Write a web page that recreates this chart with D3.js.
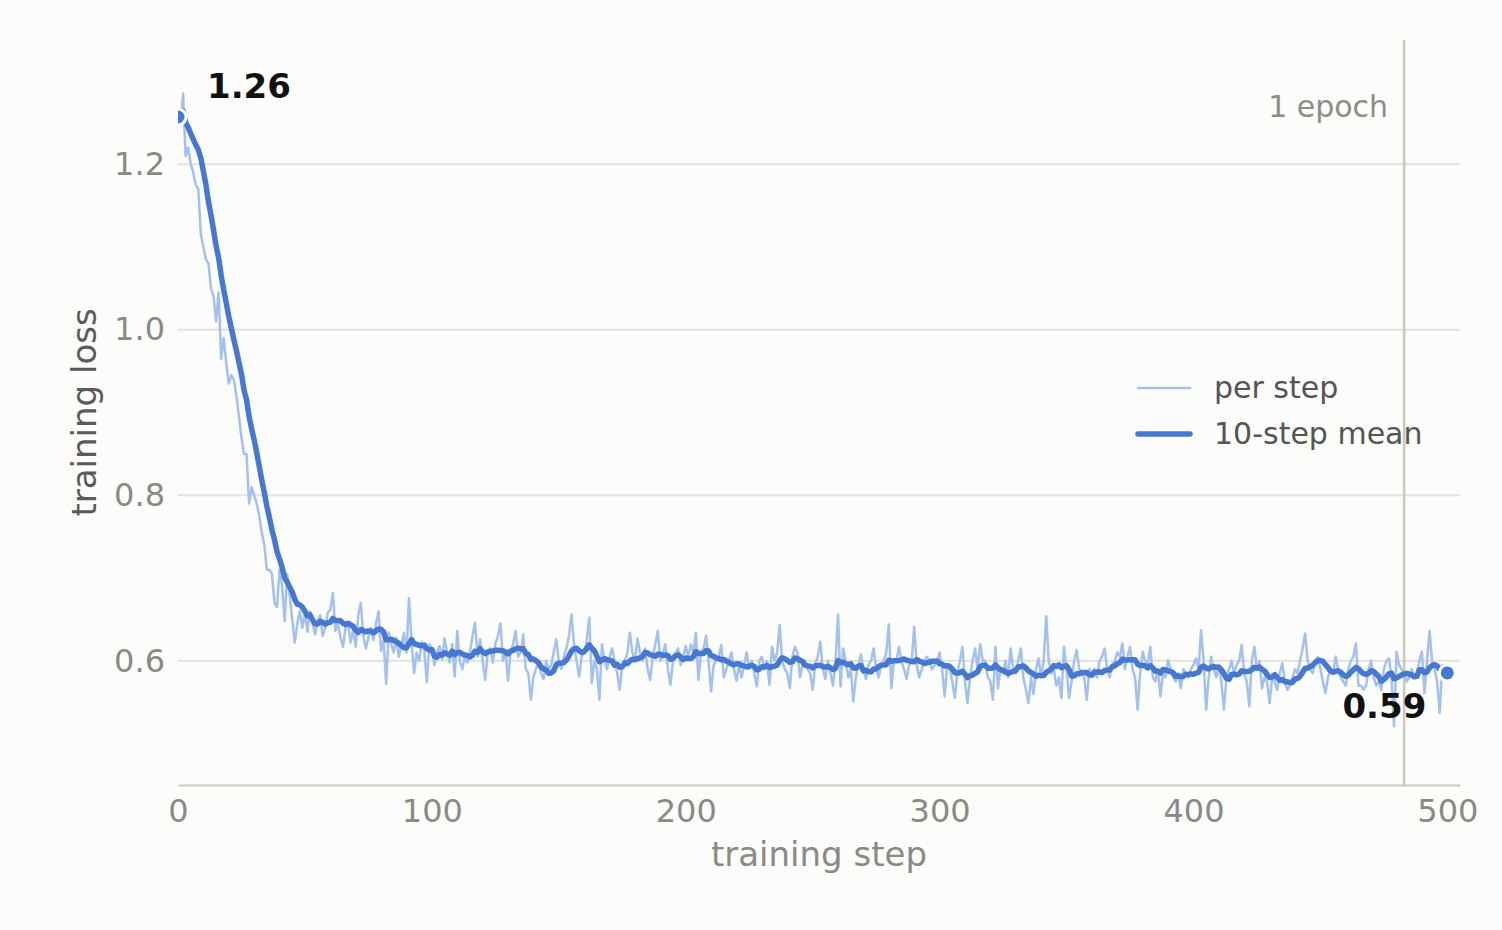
<!DOCTYPE html>
<html>
<head>
<meta charset="utf-8">
<script src="https://cdn.jsdelivr.net/npm/d3@7/dist/d3.min.js"></script>
<style>
    body { margin: 0; background: #fcfcfa; }
    text { font-family: "DejaVu Sans", sans-serif; }
</style>
</head>
<body>
<script>
// loss, one value per step, steps 0..500
var lossPerStep = [
    1.257, 1.25, 1.285, 1.21, 1.22, 1.20, 1.19, 1.175, 1.17, 1.115,
    1.10, 1.085, 1.08, 1.05, 1.04, 1.01, 1.045, 0.965, 0.99, 0.96,
    0.935, 0.945, 0.94, 0.92, 0.895, 0.87, 0.85, 0.85, 0.79, 0.81,
    0.80, 0.79, 0.775, 0.755, 0.74, 0.71, 0.71, 0.705, 0.67, 0.665,
    0.71, 0.69, 0.648, 0.705, 0.68, 0.65, 0.622, 0.645, 0.66, 0.64,
    0.658, 0.635, 0.66, 0.645, 0.632, 0.648, 0.655, 0.63, 0.64, 0.658,
    0.662, 0.682, 0.636, 0.645, 0.628, 0.617, 0.64, 0.646, 0.622, 0.638,
    0.617, 0.655, 0.67, 0.63, 0.615, 0.628, 0.64, 0.625, 0.645, 0.66,
    0.612, 0.625, 0.572, 0.634, 0.62, 0.61, 0.628, 0.605, 0.618, 0.634,
    0.61, 0.676, 0.622, 0.585, 0.61, 0.6, 0.623, 0.612, 0.574, 0.62,
    0.615, 0.595, 0.61, 0.618, 0.602, 0.627, 0.61, 0.598, 0.62, 0.581,
    0.636, 0.60, 0.59, 0.605, 0.598, 0.61, 0.63, 0.646, 0.605, 0.626,
    0.60, 0.577, 0.61, 0.615, 0.598, 0.62, 0.63, 0.645, 0.60, 0.612,
    0.576, 0.61, 0.62, 0.636, 0.605, 0.61, 0.632, 0.59, 0.585, 0.553,
    0.58, 0.59, 0.598, 0.585, 0.578, 0.60, 0.59, 0.595, 0.61, 0.626,
    0.60, 0.59, 0.605, 0.615, 0.63, 0.656, 0.62, 0.60, 0.581, 0.605,
    0.61, 0.625, 0.652, 0.573, 0.60, 0.59, 0.553, 0.62, 0.60, 0.59,
    0.605, 0.615, 0.60, 0.585, 0.565, 0.595, 0.60, 0.61, 0.634, 0.61,
    0.60, 0.627, 0.61, 0.60, 0.615, 0.59, 0.577, 0.605, 0.62, 0.636,
    0.60, 0.61, 0.62, 0.59, 0.571, 0.60, 0.61, 0.615, 0.595, 0.605,
    0.618, 0.605, 0.62, 0.61, 0.634, 0.577, 0.61, 0.615, 0.63, 0.60,
    0.563, 0.595, 0.60, 0.605, 0.619, 0.58, 0.59, 0.60, 0.61, 0.59,
    0.576, 0.595, 0.58, 0.595, 0.61, 0.59, 0.60, 0.585, 0.569, 0.60,
    0.605, 0.59, 0.60, 0.571, 0.617, 0.60, 0.61, 0.643, 0.60, 0.59,
    0.585, 0.567, 0.605, 0.617, 0.61, 0.58, 0.595, 0.60, 0.59, 0.585,
    0.565, 0.595, 0.605, 0.623, 0.59, 0.578, 0.60, 0.585, 0.57, 0.60,
    0.656, 0.569, 0.615, 0.60, 0.58, 0.59, 0.551, 0.58, 0.595, 0.608,
    0.59, 0.578, 0.595, 0.60, 0.615, 0.59, 0.58, 0.595, 0.60, 0.61,
    0.644, 0.567, 0.60, 0.60, 0.617, 0.60, 0.59, 0.578, 0.595, 0.60,
    0.641, 0.595, 0.58, 0.59, 0.60, 0.605, 0.60, 0.59, 0.595, 0.60,
    0.61, 0.59, 0.557, 0.595, 0.59, 0.575, 0.555, 0.585, 0.60, 0.617,
    0.575, 0.549, 0.58, 0.60, 0.615, 0.59, 0.62, 0.60, 0.60, 0.58,
    0.575, 0.553, 0.617, 0.567, 0.59, 0.585, 0.60, 0.58, 0.615, 0.59,
    0.585, 0.60, 0.615, 0.58, 0.565, 0.549, 0.58, 0.56, 0.59, 0.603,
    0.58, 0.60, 0.654, 0.60, 0.585, 0.59, 0.57, 0.58, 0.555, 0.617,
    0.59, 0.555, 0.575, 0.60, 0.613, 0.59, 0.585, 0.58, 0.553, 0.59,
    0.585, 0.59, 0.58, 0.60, 0.605, 0.615, 0.59, 0.58, 0.595, 0.60,
    0.61, 0.605, 0.621, 0.59, 0.605, 0.617, 0.59, 0.58, 0.541, 0.585,
    0.611, 0.60, 0.595, 0.617, 0.58, 0.575, 0.59, 0.557, 0.585, 0.58,
    0.601, 0.59, 0.58, 0.575, 0.585, 0.567, 0.59, 0.585, 0.58, 0.59,
    0.595, 0.603, 0.59, 0.637, 0.60, 0.541, 0.58, 0.605, 0.59, 0.58,
    0.595, 0.575, 0.541, 0.58, 0.59, 0.60, 0.585, 0.595, 0.60, 0.619,
    0.585, 0.575, 0.545, 0.60, 0.617, 0.59, 0.60, 0.567, 0.58, 0.575,
    0.549, 0.58, 0.575, 0.565, 0.585, 0.597, 0.575, 0.565, 0.57, 0.58,
    0.59, 0.585, 0.60, 0.615, 0.633, 0.60, 0.59, 0.585, 0.60, 0.605,
    0.59, 0.575, 0.561, 0.58, 0.59, 0.585, 0.605, 0.59, 0.58, 0.575,
    0.57, 0.59, 0.60, 0.605, 0.621, 0.57, 0.57, 0.565, 0.57, 0.59,
    0.60, 0.58, 0.57, 0.575, 0.565, 0.59, 0.60, 0.603, 0.58, 0.521,
    0.611, 0.595, 0.59, 0.585, 0.575, 0.58, 0.59, 0.58, 0.585, 0.60,
    0.611, 0.561, 0.60, 0.636, 0.60, 0.59, 0.575, 0.537, 0.595, 0.585,
    0.575
];
var meanWindow = 10;
var epochStep = 483;
var xTicks = [0, 100, 200, 300, 400, 500];
var yTicks = [0.6, 0.8, 1.0, 1.2];
var xDomain = [0, 505];
var yDomain = [0.45, 1.35];
var legendLabels = ["per step", "10-step mean"];

var W = 1502, H = 930;
var margin = {top: 40, right: 42, bottom: 145, left: 178};
var width = W - margin.left - margin.right,
    height = H - margin.top - margin.bottom;

var lightBlue = "#a2c1f0", darkBlue = "#4677d1";

// trailing mean, shorter window at the start
var steps = lossPerStep.map(function (v, i) { return i; });
var meanLoss = lossPerStep.map(function (v, i) {
    return d3.mean(lossPerStep.slice(Math.max(0, i - meanWindow + 1), i + 1));
});

var x = d3.scaleLinear().domain(xDomain).range([0, width]);
var y = d3.scaleLinear().domain(yDomain).range([height, 0]);

var svg = d3.select("body").append("svg").attr("width", W).attr("height", H);
svg.append("rect").attr("width", W).attr("height", H).attr("fill", "#fcfcfa");

var g = svg.append("g").attr("transform", "translate(" + margin.left + "," + margin.top + ")");

g.append("clipPath").attr("id", "plot").append("rect").attr("width", width).attr("height", height);

// grid
g.selectAll(".grid").data(yTicks).enter().append("line")
    .attr("x1", 0).attr("x2", width)
    .attr("y1", y).attr("y2", y)
    .attr("stroke", "#e2e2de").attr("stroke-width", 2);

// epoch marker
g.append("line")
    .attr("x1", x(epochStep)).attr("x2", x(epochStep))
    .attr("y1", 0).attr("y2", height)
    .attr("stroke", "#c9c9c0").attr("stroke-width", 2.5);
g.append("text").text("1 epoch")
    .attr("x", x(epochStep) - 16).attr("y", 77)
    .attr("text-anchor", "end").attr("font-size", 30).attr("fill", "#8e8e86");

// axes
var xAxis = g.append("g").attr("transform", "translate(0," + height + ")")
    .call(d3.axisBottom(x).tickValues(xTicks).tickSize(0).tickSizeOuter(0).tickPadding(14));
xAxis.select(".domain").attr("stroke", "#c9c9c0").attr("stroke-width", 2);
xAxis.selectAll("text").attr("font-size", 32).attr("fill", "#8a8a84").attr("font-family", "DejaVu Sans");

var yAxis = g.append("g")
    .call(d3.axisLeft(y).tickValues(yTicks).tickSize(0).tickPadding(13).tickFormat(d3.format(".1f")));
yAxis.select(".domain").remove();
yAxis.selectAll("text").attr("font-size", 32).attr("fill", "#8a8a84").attr("font-family", "DejaVu Sans");

g.append("text").text("training step")
    .attr("x", width / 2).attr("y", height + 81)
    .attr("text-anchor", "middle").attr("font-size", 34).attr("fill", "#8a8a84");
g.append("text").text("training loss")
    .attr("transform", "translate(" + (96 - margin.left) + "," + (height / 2) + ") rotate(-90)")
    .attr("text-anchor", "middle").attr("font-size", 34).attr("fill", "#5a5a5a");

// data
var plot = g.append("g").attr("clip-path", "url(#plot)");

var line = d3.line().x(function (d) { return x(d[0]); }).y(function (d) { return y(d[1]); });

plot.append("path")
    .datum(d3.zip(steps, lossPerStep))
    .attr("d", line)
    .attr("fill", "none").attr("stroke", lightBlue).attr("stroke-width", 2.5)
    .attr("stroke-linejoin", "round");

plot.append("path")
    .datum(d3.zip(steps, meanLoss))
    .attr("d", line)
    .attr("fill", "none").attr("stroke", darkBlue).attr("stroke-width", 5.5)
    .attr("stroke-linejoin", "round").attr("stroke-linecap", "round");

var last = steps.length - 1;
var ends = [[steps[0], meanLoss[0]], [steps[last], meanLoss[last]]];
plot.selectAll(".end").data(ends).enter().append("circle")
    .attr("cx", function (d) { return x(d[0]); })
    .attr("cy", function (d) { return y(d[1]); })
    .attr("r", 8)
    .attr("fill", darkBlue).attr("stroke", "#ffffff").attr("stroke-width", 3);

var fmt = d3.format(".2f");
g.append("text").text(fmt(meanLoss[0]))
    .attr("x", x(steps[0]) + 29).attr("y", y(meanLoss[0]) - 19)
    .attr("font-size", 34).attr("font-weight", "bold").attr("fill", "#111");
g.append("text").text(fmt(meanLoss[last]))
    .attr("x", x(steps[last]) - 21).attr("y", y(meanLoss[last]) + 45)
    .attr("text-anchor", "end")
    .attr("font-size", 34).attr("font-weight", "bold").attr("fill", "#111");

// legend
var legend = g.append("g").attr("transform", "translate(" + (1138 - margin.left) + "," + (388 - margin.top) + ")");
legend.selectAll("line").data(legendLabels).enter().append("line")
    .attr("x1", 0).attr("x2", 52)
    .attr("y1", function (d, i) { return i * 46; })
    .attr("y2", function (d, i) { return i * 46; })
    .attr("stroke", function (d, i) { return i ? darkBlue : lightBlue; })
    .attr("stroke-width", function (d, i) { return i ? 5.5 : 2.5; })
    .attr("stroke-linecap", "round");
legend.selectAll("text").data(legendLabels).enter().append("text")
    .text(function (d) { return d; })
    .attr("x", 76)
    .attr("y", function (d, i) { return i * 46 + 10; })
    .attr("font-size", 30).attr("fill", "#555");
</script>
</body>
</html>
